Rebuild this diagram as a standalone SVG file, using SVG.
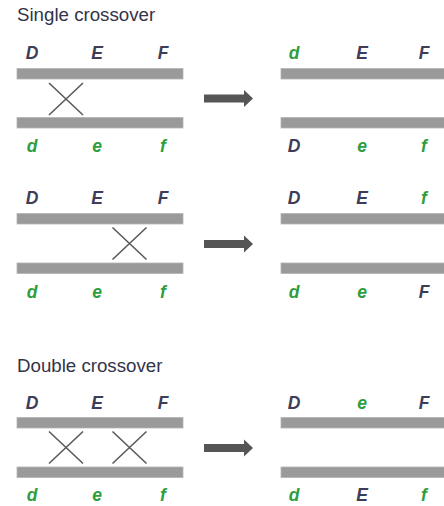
<svg xmlns="http://www.w3.org/2000/svg" width="444" height="506" viewBox="0 0 444 506">
  <style>
    .title { font-family: "Liberation Sans", Arial, sans-serif; font-size: 18.7px; fill: #33334a; }
    .lab { font-family: "Liberation Sans", Arial, sans-serif; font-size: 17.5px; font-weight: bold; font-style: italic; text-anchor: middle; }
    .up { fill: #3d3d58; }
    .lo { fill: #2e9e3e; }
    .bar { fill: #9a9a9a; stroke: #b4b4b4; stroke-width: 0.8; }
    .cross { stroke: #5a5a5a; stroke-width: 1.6; fill: none; }
    .arrow { fill: #555555; }
  </style>
  <defs>
    <rect id="barL" class="bar" x="17" y="0" width="166" height="10.5"/>
    <rect id="barR" class="bar" x="281" y="0" width="170" height="10.5"/>
    <path id="x" class="cross" d="M-17,-16 L17,16 M-17,16 L17,-16"/>
    <polygon id="arr" class="arrow" points="204,-4 244,-4 244,-8.5 253,0 244,8.5 244,4 204,4"/>
  </defs>

  <text class="title" x="17" y="21">Single crossover</text>
  <text class="title" x="17" y="372">Double crossover</text>

  <!-- single crossover, between D and E -->
  <g id="single1-before">
    <use href="#barL" y="68.5"/>
    <use href="#barL" y="117.5"/>
    <text class="lab up" x="32" y="59">D</text>
    <text class="lab up" x="97" y="59">E</text>
    <text class="lab up" x="163" y="59">F</text>
    <text class="lab lo" x="32" y="152">d</text>
    <text class="lab lo" x="97" y="152">e</text>
    <text class="lab lo" x="163" y="152">f</text>
  </g>
  <g id="single1-after">
    <use href="#barR" y="68.5"/>
    <use href="#barR" y="117.5"/>
    <text class="lab lo" x="294" y="59">d</text>
    <text class="lab up" x="362" y="59">E</text>
    <text class="lab up" x="424" y="59">F</text>
    <text class="lab up" x="294" y="152">D</text>
    <text class="lab lo" x="362" y="152">e</text>
    <text class="lab lo" x="424" y="152">f</text>
  </g>

  <!-- single crossover, between E and F -->
  <g id="single2-before">
    <use href="#barL" y="213.5"/>
    <use href="#barL" y="263"/>
    <text class="lab up" x="32" y="204">D</text>
    <text class="lab up" x="97" y="204">E</text>
    <text class="lab up" x="163" y="204">F</text>
    <text class="lab lo" x="32" y="298">d</text>
    <text class="lab lo" x="97" y="298">e</text>
    <text class="lab lo" x="163" y="298">f</text>
  </g>
  <g id="single2-after">
    <use href="#barR" y="213.5"/>
    <use href="#barR" y="263"/>
    <text class="lab up" x="294" y="204">D</text>
    <text class="lab up" x="362" y="204">E</text>
    <text class="lab lo" x="424" y="204">f</text>
    <text class="lab lo" x="294" y="298">d</text>
    <text class="lab lo" x="362" y="298">e</text>
    <text class="lab up" x="424" y="298">F</text>
  </g>

  <!-- double crossover -->
  <g id="double-before">
    <use href="#barL" y="417.5"/>
    <use href="#barL" y="467"/>
    <text class="lab up" x="32" y="409">D</text>
    <text class="lab up" x="97" y="409">E</text>
    <text class="lab up" x="163" y="409">F</text>
    <text class="lab lo" x="32" y="501">d</text>
    <text class="lab lo" x="97" y="501">e</text>
    <text class="lab lo" x="163" y="501">f</text>
  </g>
  <g id="double-after">
    <use href="#barR" y="417.5"/>
    <use href="#barR" y="467"/>
    <text class="lab up" x="294" y="409">D</text>
    <text class="lab lo" x="362" y="409">e</text>
    <text class="lab up" x="424" y="409">F</text>
    <text class="lab lo" x="294" y="501">d</text>
    <text class="lab up" x="362" y="501">E</text>
    <text class="lab lo" x="424" y="501">f</text>
  </g>

  <g id="connectors">
    <use href="#x" x="66" y="99"/>
    <use href="#x" x="129.5" y="243.5"/>
    <use href="#x" x="66" y="447.5"/>
    <use href="#x" x="129.5" y="447.5"/>
    <use href="#arr" y="98.5"/>
    <use href="#arr" y="244"/>
    <use href="#arr" y="448"/>
  </g>
</svg>
